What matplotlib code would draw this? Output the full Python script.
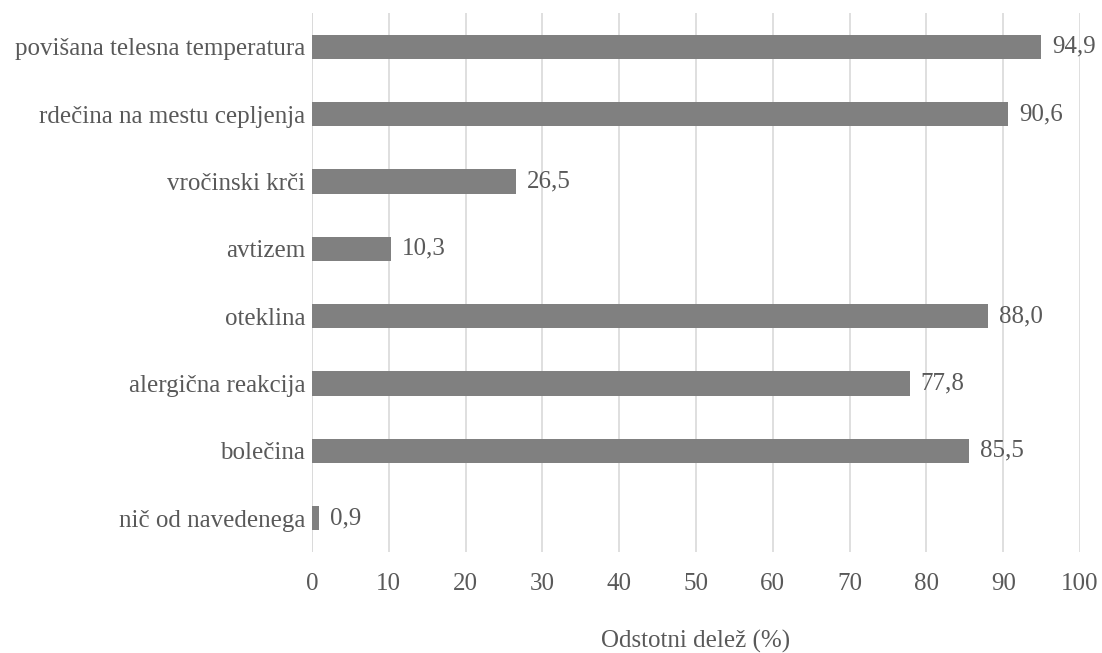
import matplotlib
matplotlib.use("Agg")
import matplotlib.pyplot as plt

categories = ["povišana telesna temperatura", "rdečina na mestu cepljenja", "vročinski krči",
              "avtizem", "oteklina", "alergična reakcija", "bolečina", "nič od navedenega"]
values = [94.9, 90.6, 26.5, 10.3, 88.0, 77.8, 85.5, 0.9]
xticks = [0, 10, 20, 30, 40, 50, 60, 70, 80, 90, 100]

plt.rcParams['font.family'] = ['Liberation Serif', 'DejaVu Serif']
txt = '#595959'
fs = 18

fig = plt.figure(figsize=(11.02, 6.53), dpi=100)
ax = fig.add_axes([312/1102, 1-552/653, (1080-312)/1102, (552-13)/653])

ypos = list(range(len(categories)))
ax.barh(ypos, values, height=0.36, color='#808080', zorder=3)
ax.set_ylim(len(categories)-0.5, -0.5)
ax.set_yticks(ypos)
ax.set_yticklabels(categories, fontsize=fs, color=txt)
ax.set_xlim(0, 100)
ax.set_xticks(xticks)
ax.set_xticklabels([str(t) for t in xticks], fontsize=fs, color=txt)
ax.grid(axis='x', color='#d9d9d9', linewidth=1.2, zorder=0)
ax.tick_params(length=0, pad=5)
ax.tick_params(axis='x', pad=15)
for s in ax.spines.values():
    s.set_visible(False)
ax.axvline(0, color='#d9d9d9', linewidth=1.2, zorder=1)

for y, v in zip(ypos, values):
    ax.annotate(f"{v:.1f}".replace('.', ','), (v, y), xytext=(8, 0), textcoords='offset points',
                va='center', ha='left', fontsize=fs, color=txt)

ax.set_xlabel("Odstotni delež (%)", fontsize=fs, color=txt, labelpad=25)

fig.savefig("out.png", dpi=100)
